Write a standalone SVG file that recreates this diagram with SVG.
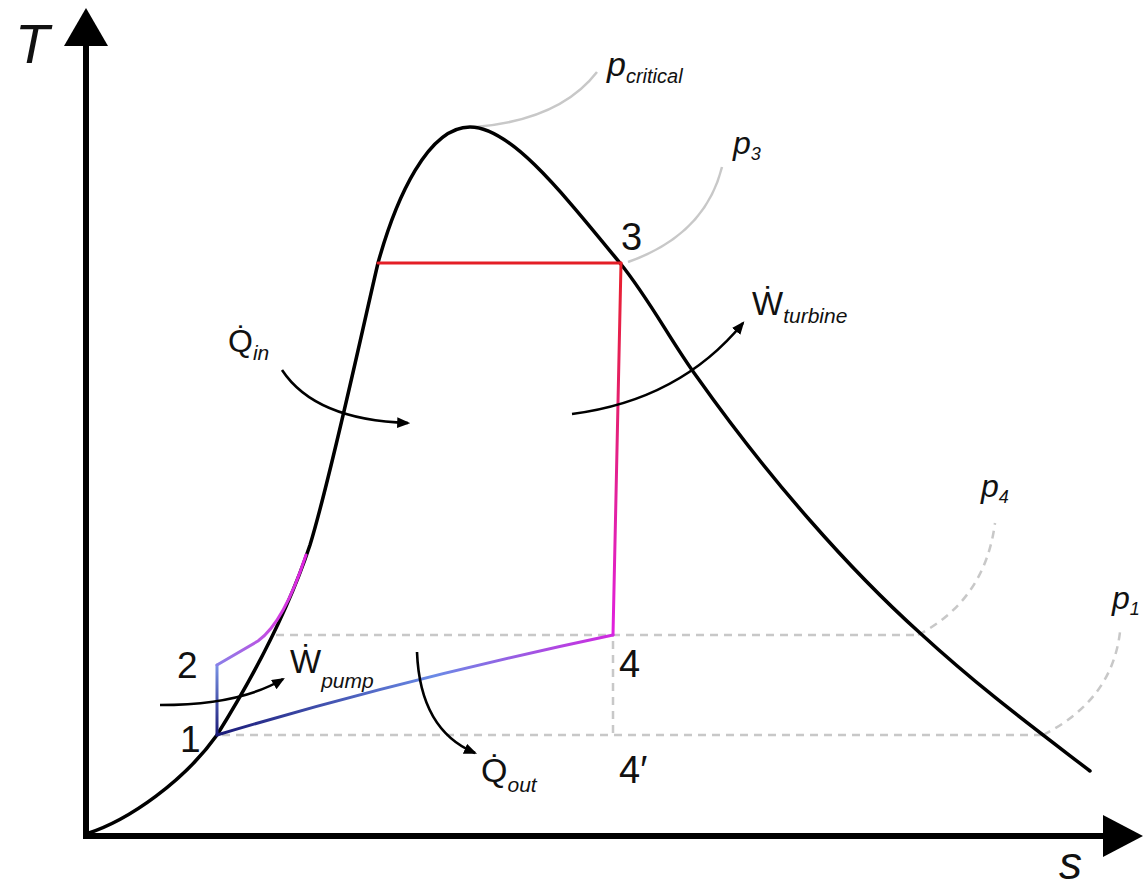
<svg xmlns="http://www.w3.org/2000/svg" width="1147" height="891" viewBox="0 0 1147 891">
<style>
.ax{stroke:#000;stroke-width:6;fill:none}
.dome{stroke:#000;stroke-width:3.5;fill:none;stroke-linecap:round}
.cyc{stroke-width:3;fill:none;stroke-linecap:round;stroke-linejoin:round}
.dash{stroke:#c8c8c8;stroke-width:2.5;fill:none;stroke-dasharray:8 6}
.lead{stroke:#c8c8c8;stroke-width:2.5;fill:none}
.arr{stroke:#000;stroke-width:2.6;fill:none;marker-end:url(#ah)}
.t{font-family:"Liberation Sans",Arial,sans-serif;fill:#111}
.i{font-style:italic}
</style>
<defs>
<marker id="ah" viewBox="0 0 12 10" refX="10" refY="5" markerWidth="13" markerHeight="11" markerUnits="userSpaceOnUse" orient="auto">
<path d="M0,0 L12,5 L0,10 Z" fill="#000"/>
</marker>
<linearGradient id="g34" gradientUnits="userSpaceOnUse" x1="621" y1="263" x2="613" y2="635">
<stop offset="0" stop-color="#e8202a"/><stop offset="1" stop-color="#e020e0"/>
</linearGradient>
<linearGradient id="g41" gradientUnits="userSpaceOnUse" x1="613" y1="635" x2="217" y2="735">
<stop offset="0" stop-color="#d028e0"/><stop offset="0.45" stop-color="#6a8ae6"/><stop offset="1" stop-color="#1a1a78"/>
</linearGradient>
<linearGradient id="g12" gradientUnits="userSpaceOnUse" x1="217" y1="735" x2="217" y2="665">
<stop offset="0" stop-color="#1a1a78"/><stop offset="1" stop-color="#7a94e6"/>
</linearGradient>
<linearGradient id="g2s" gradientUnits="userSpaceOnUse" x1="217" y1="665" x2="306" y2="555">
<stop offset="0" stop-color="#8a80e8"/><stop offset="0.5" stop-color="#d040e0"/><stop offset="1" stop-color="#e020e0"/>
</linearGradient>
</defs>

<g id="axes">
<line class="ax" x1="86" y1="839" x2="86" y2="40"/>
<polygon points="86,8 64,46 108,46" fill="#000"/>
<line class="ax" x1="83" y1="836" x2="1108" y2="836"/>
<polygon points="1143,836 1103,815 1103,857" fill="#000"/>
<text class="t i" x="15" y="63" font-size="56">T</text>
<text class="t i" x="1059" y="879" font-size="46">s</text>
</g>

<g id="isobars">
<line class="dash" x1="276" y1="635" x2="918" y2="635"/>
<path class="dash" d="M918,635 Q985,600 995,523"/>
<line class="dash" x1="222" y1="735" x2="1043" y2="735"/>
<path class="dash" d="M1043,735 Q1112,700 1120,632"/>
<line class="dash" x1="613" y1="641" x2="613" y2="733"/>
<path class="lead" d="M475,127 Q560,120 597,72"/>
<path class="lead" d="M628,262 Q705,235 722,167"/>
</g>

<g id="saturation-dome">
<path class="dome" d="M86,834 C130,820 185,780 217,735 C245,690 285,620 310,545 C330,480 360,340 378,263 C396,198 428,127 470,127 C510,127 560,190 620,263 C650,300 670,340 697,377 C770,480 850,570 920,633 C980,688 1030,725 1090,771"/>
</g>

<g id="cycle">
<line class="cyc" x1="378" y1="263" x2="621" y2="263" stroke="#e41e26"/>
<line class="cyc" x1="621" y1="263" x2="613" y2="635" stroke="url(#g34)"/>
<path class="cyc" d="M613,635 Q400,680 217,735" stroke="url(#g41)"/>
<line class="cyc" x1="217" y1="735" x2="217" y2="665" stroke="url(#g12)"/>
<path class="cyc" d="M217,665 L258,641 C276,628 292,598 306,555" stroke="url(#g2s)"/>
</g>

<g id="connectors">
<path class="arr" d="M282,370 Q315,420 408,423"/>
<path class="arr" d="M572,414 Q680,400 743,323"/>
<path class="arr" d="M417,652 Q420,730 475,753"/>
<path class="arr" d="M160,705 Q240,705 283,679"/>
</g>

<g id="state-labels">
<text class="t" x="180" y="752" font-size="37">1</text>
<text class="t" x="177" y="678" font-size="37">2</text>
<text class="t" x="621" y="250" font-size="38">3</text>
<text class="t" x="619" y="677" font-size="38">4</text>
<text class="t" x="619" y="783" font-size="38">4′</text>
</g>

<g id="pressure-labels">
<text class="t i" x="607" y="76" font-size="34">p<tspan font-size="20" dy="7">critical</tspan></text>
<text class="t i" x="733" y="154" font-size="32">p<tspan font-size="18" dy="6">3</tspan></text>
<text class="t i" x="981" y="497" font-size="32">p<tspan font-size="18" dy="6">4</tspan></text>
<text class="t i" x="1112" y="609" font-size="32">p<tspan font-size="18" dy="6">1</tspan></text>
</g>

<g id="energy-labels">
<text class="t" x="228" y="352" font-size="32">Q&#x307;<tspan class="i" font-size="21" dy="8">in</tspan></text>
<text class="t" x="481" y="782" font-size="34">Q&#x307;<tspan class="i" font-size="21" dy="10">out</tspan></text>
<text class="t" x="752" y="315" font-size="33">W&#x307;<tspan class="i" font-size="21" dy="8">turbine</tspan></text>
<text class="t" x="290" y="673" font-size="33">W&#x307;<tspan class="i" font-size="21" dy="15">pump</tspan></text>
</g>
</svg>
